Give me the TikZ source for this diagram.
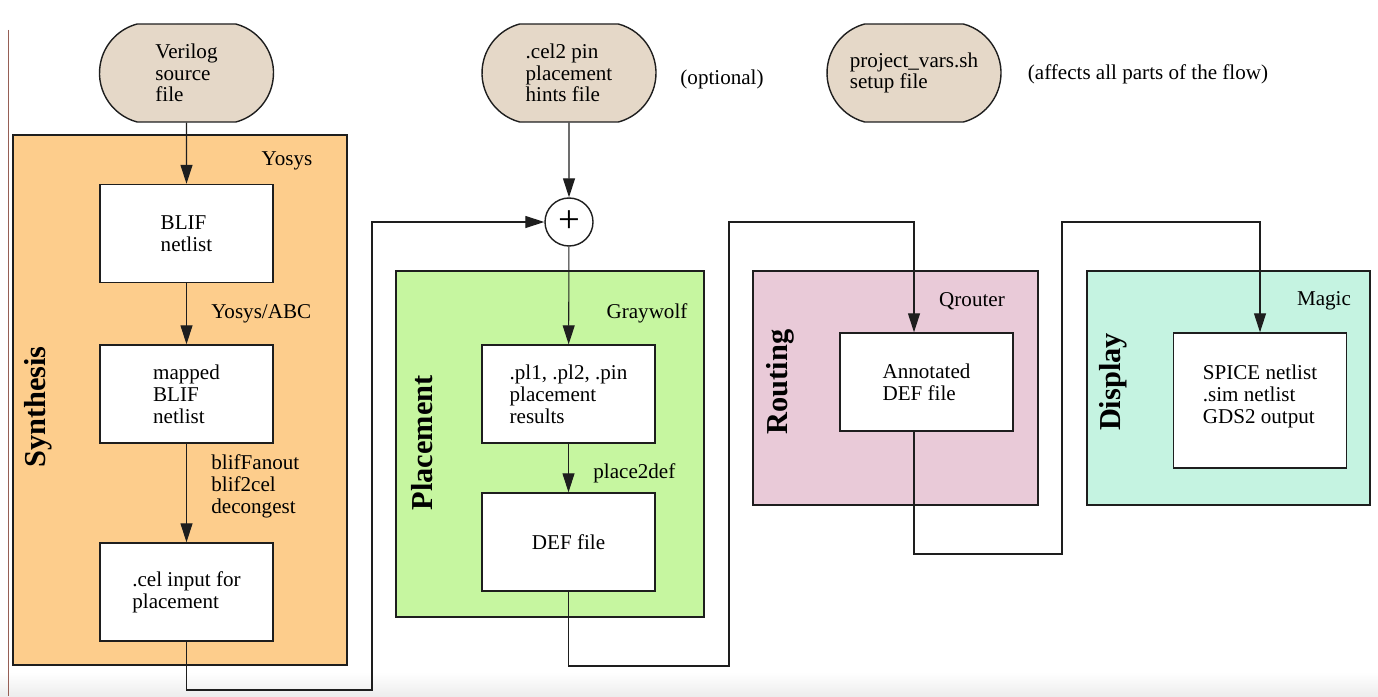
\documentclass[tikz,border=0pt]{standalone}
\usepackage{fontspec}
\setmainfont{Liberation Serif}
\usepackage{tikz}
\usetikzlibrary{arrows.meta,positioning,shapes.misc}
\usepackage{xcolor}

\definecolor{pillfill}{RGB}{229,216,200}
\definecolor{synthfill}{RGB}{253,205,140}
\definecolor{placefill}{RGB}{198,246,160}
\definecolor{routefill}{RGB}{233,202,216}
\definecolor{dispfill}{RGB}{197,243,225}
\definecolor{linegray}{RGB}{30,30,30}
\definecolor{edgeline}{RGB}{150,95,85}

\newlength{\pxu}
\setlength{\pxu}{0.02cm}

\begin{document}
\begin{tikzpicture}[x=0.02cm,y=-0.02cm,
	font=\fontsize{12}{12.4}\selectfont,
	flow/.style={draw=linegray,line width=0.6pt,-{Triangle[length=3.8mm,width=2.4mm]}},
	lbl/.style={right,xshift=0.37cm,align=left},
	phase/.style={draw=linegray,line width=0.8pt},
	phasetitle/.style={rotate=90,font=\fontsize{17.3}{18}\selectfont\bfseries}]
	\useasboundingbox (0,0) rectangle (1378,696);
	\shade[top color=white,bottom color=black!7] (0,672) rectangle (1378,696);
	\draw[edgeline,line width=0.5pt] (8,30) -- (8,696);

	\draw[phase,fill=synthfill] (13,135) rectangle (347,665);
	\draw[phase,fill=placefill] (396,271) rectangle (704,617);
	\draw[phase,fill=routefill] (753,271) rectangle (1038,505);
	\draw[phase,fill=dispfill] (1087,271) rectangle (1370,505);

	\begin{scope}[every node/.style={phasetitle}]
		\node (synthtitle) at (38,407) {Synthesis};
		\node (placetitle) at (422,443) {Placement};
		\node (routetitle) at (780,382) {Routing};
		\node (disptitle) at (1113,382) {Display};
	\end{scope}

	\node (yosys) at (287,161) {Yosys};
	\node (graywolf) at (647,313) {Graywolf};
	\node (qrouter) at (972,301) {Qrouter};
	\node (magic) at (1324,301) {Magic};
	\node (optional) at (722,79) {(optional)};
	\node (affects) at (1148,74) {(affects all parts of the flow)};

	\begin{scope}[every node/.style={rounded rectangle,rounded rectangle arc length=150,draw=linegray,line width=0.8pt,fill=pillfill,minimum width=174\pxu,minimum height=98\pxu,align=left,inner sep=0pt}]
		\node (verilog) at (186.5,73) {Verilog\\source\\file};
		\node (celtwo) at (569,73) {.cel2 pin\\placement\\hints file};
		\node (projvars) at (914,73) {project\_vars.sh\\setup file};
	\end{scope}

	\begin{scope}[every node/.style={draw=linegray,line width=0.8pt,fill=white,minimum width=173\pxu,minimum height=98\pxu,align=left}]
		\node (blif) at (186.5,233.5) {BLIF\\netlist};
		\node (mapped) at (186.5,394) {mapped\\BLIF\\netlist};
		\node (celin) at (186.5,592) {.cel input for\\placement};
		\node (plres) at (568.5,394) {.pl1, .pl2, .pin\\placement\\results};
		\node (deffile) at (568.5,542) {DEF file};
		\node (annot) at (926.5,382) {Annotated\\DEF file};
		\node[minimum height=135\pxu] (dispout) at (1260,400.5) {SPICE netlist\\.sim netlist\\GDS2 output\\[-5pt]};
	\end{scope}

	\node[circle,draw=linegray,line width=0.8pt,fill=white,minimum size=48\pxu,inner sep=0pt,font=\fontsize{22}{22}\selectfont] (plus) at (569,222) {+};

	\coordinate (bendA) at (372,690);
	\coordinate (bendB) at (729,666);
	\coordinate (bendC) at (914,222);
	\coordinate (bendD) at (1062,554);
	\coordinate (bendE) at (1260,222);

	\draw[flow] (verilog) -- (blif);
	\draw[flow] (blif) -- node[lbl] {Yosys/ABC} (mapped);
	\draw[flow] (mapped) -- node[lbl,pos=0.43] {blifFanout\\blif2cel\\decongest} (celin);
	\draw[flow] (celin) |- (bendA) |- (plus);
	\draw[flow] (celtwo) -- (plus);
	\draw[flow] (plus) -- (plres);
	\draw[flow] (plres) -- node[lbl,pos=0.6] {place2def} (deffile);
	\draw[flow] (deffile) |- (bendB) |- (bendC) -- (bendC |- annot.north);
	\draw[flow] (annot.south -| bendC) |- (bendD) |- (bendE) -- (dispout);
\end{tikzpicture}
\end{document}
